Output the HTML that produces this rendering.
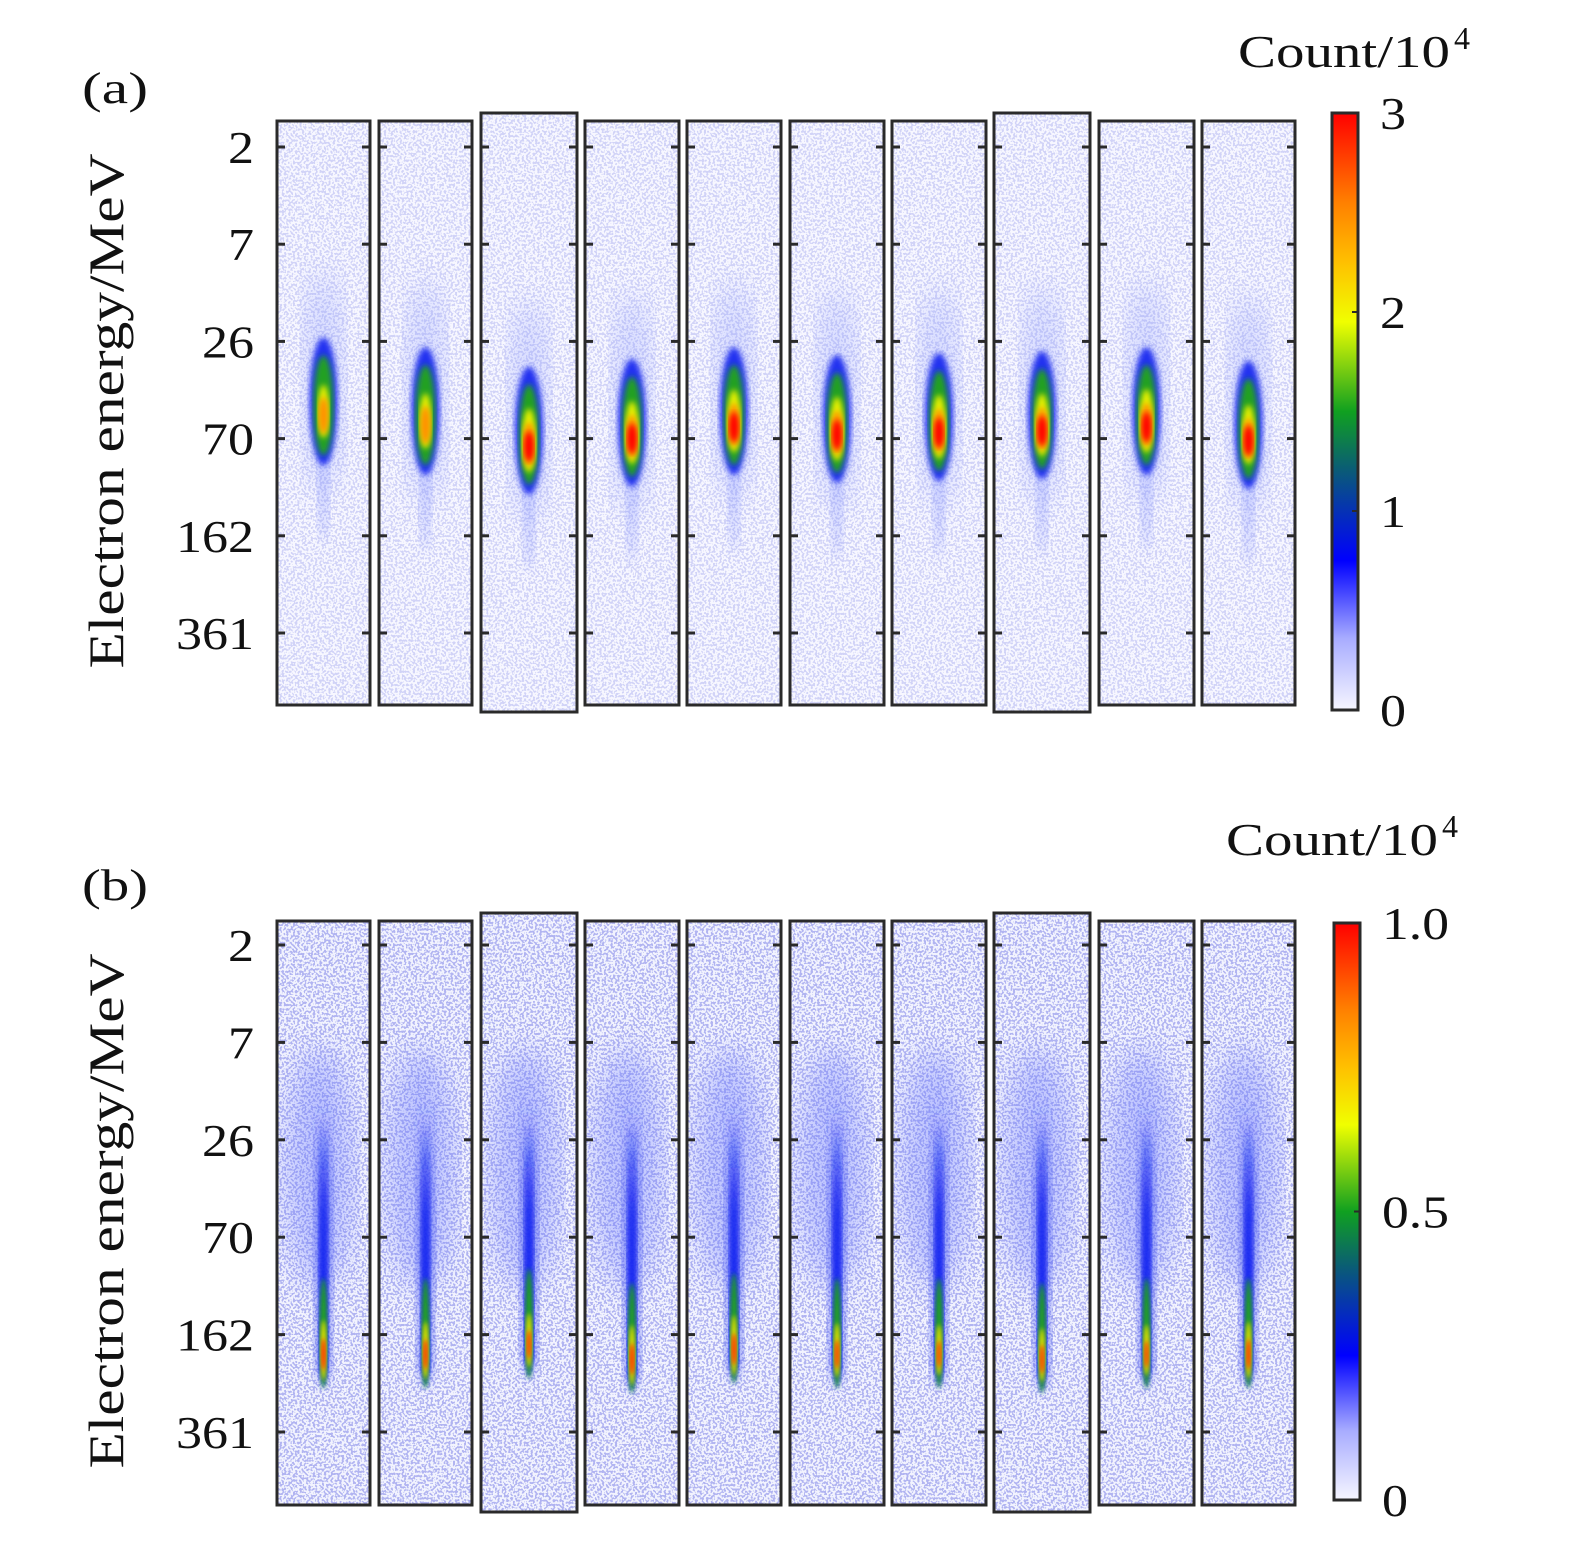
<!DOCTYPE html>
<html><head><meta charset="utf-8"><style>
html,body{margin:0;padding:0;background:#fff;}
svg{display:block;font-family:"Liberation Serif",serif;}
</style></head><body>
<svg id="fig" width="1575" height="1545" viewBox="0 0 1575 1545" xmlns="http://www.w3.org/2000/svg">
<defs>
<filter id="noise" x="0" y="0" width="100%" height="100%">
<feTurbulence type="fractalNoise" baseFrequency="0.45" numOctaves="1" seed="3" result="t"/>
<feColorMatrix in="t" type="matrix" values="0 0 0 0 0.2  0 0 0 0 0.22  0 0 0 0 0.8  0 0 0 -14 7.2" result="n"/>
<feComposite in="n" in2="SourceGraphic" operator="in"/>
</filter>
<filter id="blur6"><feGaussianBlur stdDeviation="6"/></filter>
<filter id="blur3"><feGaussianBlur stdDeviation="3"/></filter>
<filter id="blur2"><feGaussianBlur stdDeviation="2"/></filter>
<filter id="blur14"><feGaussianBlur stdDeviation="14"/></filter>
<linearGradient id="streak" x1="0" y1="0" x2="0" y2="1">
<stop offset="0" stop-color="#1020f0" stop-opacity="0"/>
<stop offset="0.35" stop-color="#1020f0" stop-opacity="0.8"/>
<stop offset="1" stop-color="#1020f0" stop-opacity="1"/>
</linearGradient>
<linearGradient id="streakWide" x1="0" y1="0" x2="0" y2="1">
<stop offset="0" stop-color="#3040f0" stop-opacity="0"/>
<stop offset="0.3" stop-color="#3040f0" stop-opacity="0.5"/>
<stop offset="1" stop-color="#3040f0" stop-opacity="0.6"/>
</linearGradient>
<linearGradient id="cmap" x1="0" y1="1" x2="0" y2="0">
<stop offset="0" stop-color="#f6f6ff"/><stop offset="0.12" stop-color="#a8acff"/>
<stop offset="0.25" stop-color="#0000ff"/><stop offset="0.4" stop-color="#0a5a78"/>
<stop offset="0.5" stop-color="#10a020"/><stop offset="0.65" stop-color="#f0ff00"/>
<stop offset="0.75" stop-color="#ffc000"/><stop offset="0.85" stop-color="#ff8000"/>
<stop offset="1" stop-color="#ff0000"/>
</linearGradient>
</defs>
</svg>
<script>
const NS="http://www.w3.org/2000/svg";
const svg=document.getElementById('fig');
// ---- data ----
const yTickLabels=["2","7","26","70","162","361"];
const frameLefts=[277,379,481,585,687,790,892,994,1099,1202];
const frameWidths=[93,93,96,94,94,94,94,96,95,93];
const tallFrames=[2,7];
// panel a: beam centre (in tick-index units) and peak count (x10^4)
const centersA=[2.72,2.82,3.02,2.94,2.82,2.9,2.88,2.86,2.82,2.96];
const peaksA=[2.5,2.6,3.0,2.95,2.95,3.0,3.0,2.95,3.0,2.8];
// panel b: streak bottom tip (tick-index units) and peak (x10^4)
const tipsB=[4.55,4.55,4.45,4.6,4.5,4.55,4.55,4.6,4.55,4.55];
const peaksB=[1.0,0.95,0.9,1.0,1.0,0.9,0.85,0.9,0.85,0.95];
const cbarTicksA=["0","1","2","3"];
const cbarTicksB=["0","0.5","1.0"];

function el(tag,attrs,parent){const e=document.createElementNS(NS,tag);for(const k in attrs)e.setAttribute(k,attrs[k]);(parent||svg).appendChild(e);return e;}
function txt(s,x,y,size,anchor,parent,len){const a={x:x,y:y,'font-size':size,'text-anchor':anchor||'start',fill:'#111'};if(len){a.textLength=len;a.lengthAdjust='spacingAndGlyphs';}const t=el('text',a,parent);t.textContent=s;return t;}

const panels=[
 {top:121,bot:705,tick0:147,tickStep:97.2,label:"(a)",ly:103,cbTop:113,cbBot:710,cbX:1332,cnt:[1238,50],kind:'a'},
 {top:921,bot:1505,tick0:945,tickStep:97.4,label:"(b)",ly:900,cbTop:923,cbBot:1500,cbX:1334,cnt:[1226,838],kind:'b'}
];

panels.forEach((P,pi)=>{
 const g=el('g',{});
 
 
 const yOf=v=>P.tick0+v*P.tickStep;
 const pl=txt(P.label,82,P.ly,44,'start',g,66);
 
 
 const yl=txt("Electron energy/MeV",0,0,50,'middle',g,515);
 yl.setAttribute('transform','translate(123,'+((P.top+P.bot)/2-2)+') rotate(-90)');
 
 
 yTickLabels.forEach((s,i)=>{const t=txt(s,254,yOf(i)+16,46,'end',g,26*s.length);
  
  });
 frameLefts.forEach((x0,fi)=>{
  const w=frameWidths[fi];const tall=tallFrames.includes(fi);
  const top=tall?P.top-8:P.top, bot=tall?P.bot+7:P.bot;
  const fg=el('g',{},g);
  
  
  const cp='clip'+pi+'_'+fi;
  const c=el('clipPath',{id:cp},fg);el('rect',{x:x0,y:top,width:w,height:bot-top},c);
  const inner=el('g',{'clip-path':'url(#'+cp+')'},fg);
  el('rect',{x:x0,y:top,width:w,height:bot-top,fill:pi?'#f2f3fe':'#f7f7ff'},inner);
  el('rect',{x:x0,y:top,width:w,height:bot-top,fill:'#fff',filter:'url(#noise)',opacity:pi?0.55:0.3},inner);
  const cx=x0+w/2;
  if(P.kind==='a'){
   const cy=yOf(centersA[fi]);const pk=peaksA[fi]/3;
   el('ellipse',{cx:cx,cy:cy-30,rx:20,ry:110,fill:'#8090ff',opacity:0.3,filter:'url(#blur14)'},inner);
   el('ellipse',{cx:cx,cy:cy+75,rx:6,ry:55,fill:'#7080ff',opacity:0.3,filter:'url(#blur6)'},inner);
   el('ellipse',{cx:cx,cy:cy-10,rx:14,ry:64,fill:'#2030f0',filter:'url(#blur3)'},inner);
   el('ellipse',{cx:cx,cy:cy-6,rx:10,ry:50,fill:'#20a020',filter:'url(#blur3)'},inner);
   el('ellipse',{cx:cx,cy:cy,rx:7*pk,ry:32*pk,fill:'#e8f000',filter:'url(#blur3)'},inner);
   el('ellipse',{cx:cx,cy:cy+4,rx:6*pk,ry:22*pk,fill:'#ff9000',filter:'url(#blur3)'},inner);
   if(pk>0.9) el('ellipse',{cx:cx,cy:cy+6,rx:5,ry:15,fill:'#ff0000',filter:'url(#blur3)'},inner);
  } else {
   const tip=yOf(tipsB[fi]);const pk=peaksB[fi];
   el('ellipse',{cx:cx-4,cy:yOf(2.3),rx:34,ry:120,fill:'#6070ff',opacity:0.35,filter:'url(#blur14)'},inner);
   el('path',{d:`M${cx-9} ${yOf(1.6)} L${cx+9} ${yOf(1.6)} L${cx+7} ${tip-20} L${cx} ${tip} L${cx-7} ${tip-20}Z`,fill:'url(#streakWide)',filter:'url(#blur6)'},inner);
   el('path',{d:`M${cx-5} ${yOf(1.8)} L${cx+5} ${yOf(1.8)} L${cx+5} ${tip-20} L${cx} ${tip} L${cx-5} ${tip-20}Z`,fill:'url(#streak)',filter:'url(#blur2)'},inner);
   el('ellipse',{cx:cx,cy:tip-55,rx:4,ry:55,fill:'#20a020',filter:'url(#blur2)'},inner);
   el('ellipse',{cx:cx,cy:tip-38,rx:3,ry:30*pk,fill:'#e8e000',filter:'url(#blur2)'},inner);
   el('ellipse',{cx:cx,cy:tip-34,rx:2.5,ry:16*pk,fill:'#ff3000',opacity:pk,filter:'url(#blur2)'},inner);
  }
  el('rect',{x:x0,y:top,width:w,height:bot-top,fill:'none',stroke:'#2a2a2a','stroke-width':3},fg);
  yTickLabels.forEach((s,i)=>{const y=yOf(i);
   el('line',{x1:x0,x2:x0+8,y1:y,y2:y,stroke:'#2a2a2a','stroke-width':3},fg);
   el('line',{x1:x0+w-8,x2:x0+w,y1:y,y2:y,stroke:'#2a2a2a','stroke-width':3},fg);});
 });
 // colorbar
 const cb=el('g',{},g);
 
 
 el('rect',{x:P.cbX,y:P.cbTop,width:26,height:P.cbBot-P.cbTop,fill:'url(#cmap)',stroke:'#2a2a2a','stroke-width':3},cb);
 const ticks=pi?cbarTicksB:cbarTicksA;
 ticks.forEach((s,i)=>{const y=P.cbBot-(P.cbBot-P.cbTop)*i/(ticks.length-1);
  el('line',{x1:P.cbX+20,x2:P.cbX+26,y1:y,y2:y,stroke:'#2a2a2a','stroke-width':2},cb);
  const t=txt(s,P.cbX+48,y+16,46,'start',cb,s.length===1?26:67);
  
  });
 const ct=el('text',{x:P.cnt[0],y:P.cnt[1]+17,'font-size':46,fill:'#111',textLength:212,lengthAdjust:'spacingAndGlyphs'},cb);
 
 
 ct.textContent='Count/10';
 const sup=el('text',{x:P.cnt[0]+216,y:P.cnt[1]-1,'font-size':32,fill:'#111'},cb);
 sup.textContent='4';
});
</script>
</body></html>
